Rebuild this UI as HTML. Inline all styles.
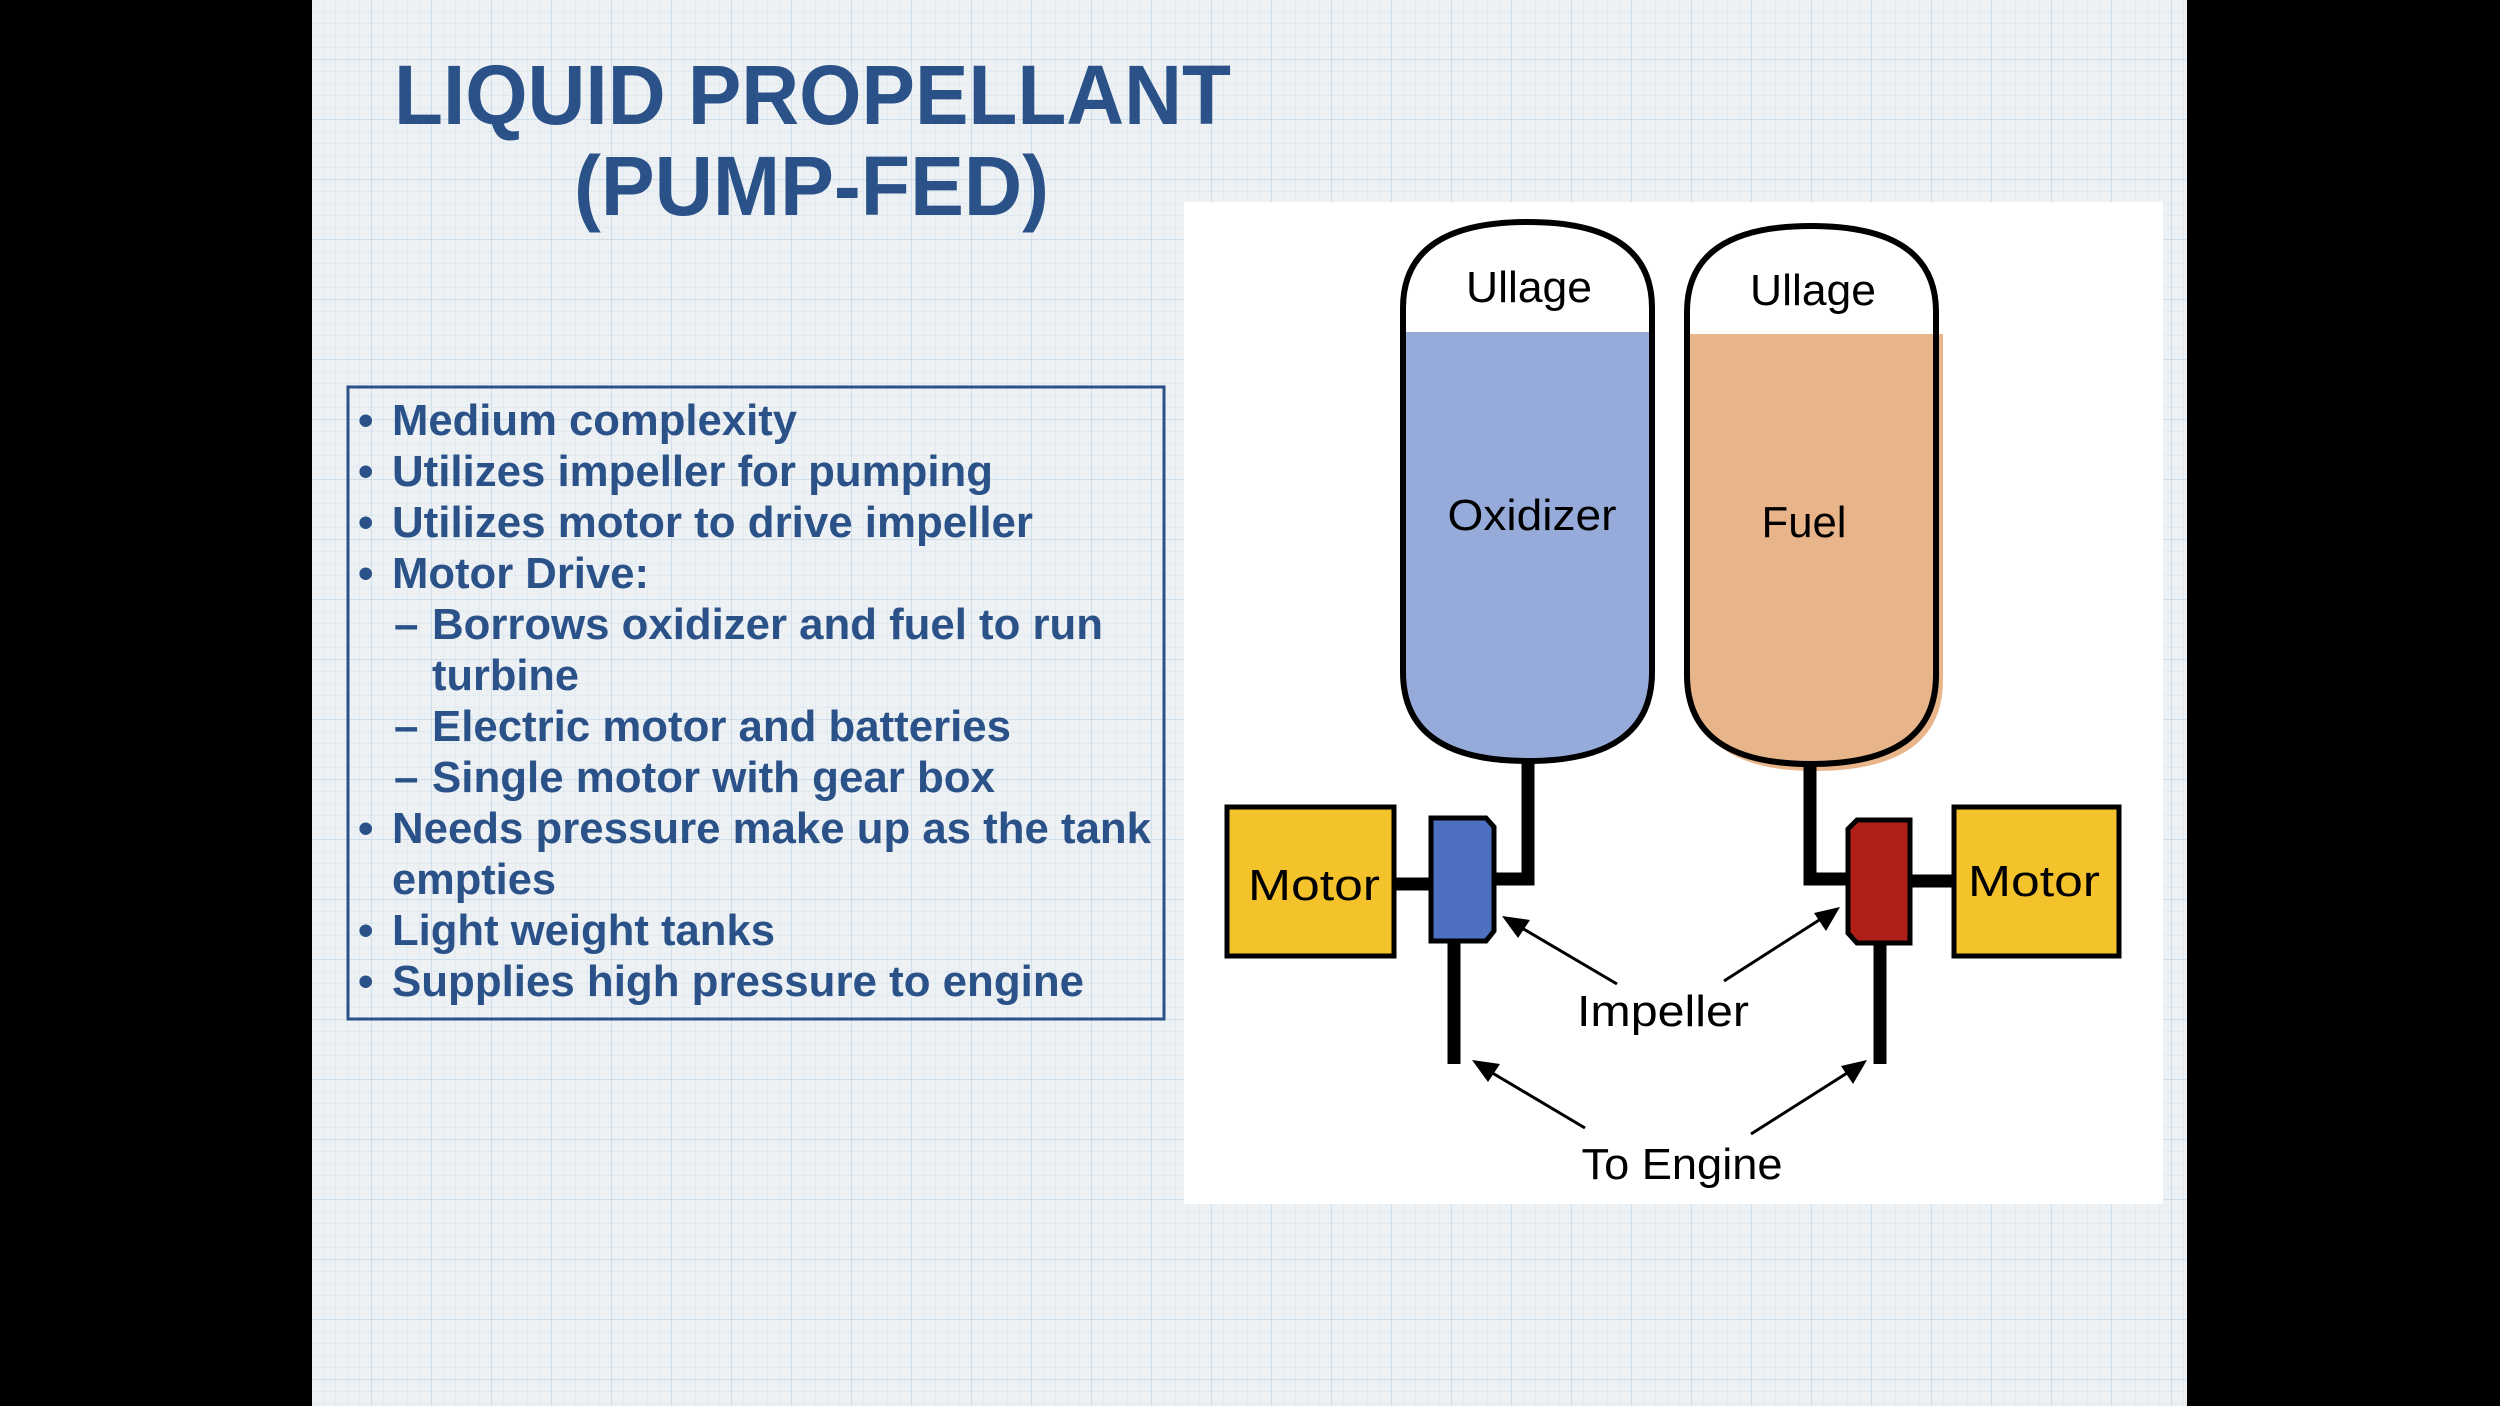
<!DOCTYPE html>
<html><head><meta charset="utf-8"><style>
html,body{margin:0;padding:0;background:#000;}
svg{display:block;}
</style></head><body>
<svg width="2500" height="1406" viewBox="0 0 2500 1406" xmlns="http://www.w3.org/2000/svg">
<defs>
<pattern id="minor" width="12" height="12" patternUnits="userSpaceOnUse" x="312" y="0">
<path d="M12 0V12M0 12H12" stroke="#d6e3ee" stroke-width="1" fill="none"/>
</pattern>
<pattern id="major" width="60" height="60" patternUnits="userSpaceOnUse" x="312" y="0">
<path d="M60 0V60M0 60H60" stroke="#c3d7e8" stroke-width="1.5" fill="none"/>
</pattern>
</defs>
<rect x="0" y="0" width="2500" height="1406" fill="#000"/>
<rect x="312" y="0" width="1875" height="1406" fill="#eef1f4"/>
<rect x="312" y="0" width="1875" height="1406" fill="url(#minor)"/>
<rect x="312" y="0" width="1875" height="1406" fill="url(#major)"/>

<g font-family="'Liberation Sans Narrow','Liberation Sans',sans-serif" font-weight="bold" fill="#2a5288">
<text x="394" y="124" font-size="84" textLength="837" lengthAdjust="spacingAndGlyphs">LIQUID PROPELLANT</text>
<text x="574" y="215" font-size="84" textLength="475" lengthAdjust="spacingAndGlyphs">(PUMP-FED)</text>
</g>

<rect x="348" y="387" width="816" height="632" fill="none" stroke="#2a5288" stroke-width="3"/>
<g font-family="'Liberation Sans Narrow','Liberation Sans',sans-serif" font-weight="bold" fill="#2a5288" font-size="44">
<text x="358" y="435">•</text><text x="392" y="435" textLength="405" lengthAdjust="spacingAndGlyphs">Medium complexity</text>
<text x="358" y="486">•</text><text x="392" y="486" textLength="601" lengthAdjust="spacingAndGlyphs">Utilizes impeller for pumping</text>
<text x="358" y="537">•</text><text x="392" y="537" textLength="641" lengthAdjust="spacingAndGlyphs">Utilizes motor to drive impeller</text>
<text x="358" y="588">•</text><text x="392" y="588" textLength="257" lengthAdjust="spacingAndGlyphs">Motor Drive:</text>
<text x="394" y="639">–</text><text x="432" y="639" textLength="671" lengthAdjust="spacingAndGlyphs">Borrows oxidizer and fuel to run</text>
<text x="432" y="690" textLength="147" lengthAdjust="spacingAndGlyphs">turbine</text>
<text x="394" y="741">–</text><text x="432" y="741" textLength="579" lengthAdjust="spacingAndGlyphs">Electric motor and batteries</text>
<text x="394" y="792">–</text><text x="432" y="792" textLength="563" lengthAdjust="spacingAndGlyphs">Single motor with gear box</text>
<text x="358" y="843">•</text><text x="392" y="843" textLength="759" lengthAdjust="spacingAndGlyphs">Needs pressure make up as the tank</text>
<text x="392" y="894" textLength="164" lengthAdjust="spacingAndGlyphs">empties</text>
<text x="358" y="945">•</text><text x="392" y="945" textLength="383" lengthAdjust="spacingAndGlyphs">Light weight tanks</text>
<text x="358" y="996">•</text><text x="392" y="996" textLength="692" lengthAdjust="spacingAndGlyphs">Supplies high pressure to engine</text>
</g>

<!-- diagram panel -->
<rect x="1184" y="202" width="979" height="1002" fill="#fff"/>

<!-- oxidizer tank -->
<path d="M1403 332 H1655 V672 Q1655 761 1528 761 Q1403 761 1403 672 Z" fill="#97abdb"/>
<path d="M1403 308 Q1403 222 1528 222 Q1652 222 1652 308 V672 Q1652 761 1528 761 Q1403 761 1403 672 Z" fill="none" stroke="#000" stroke-width="6"/>
<!-- fuel tank -->
<path d="M1690 334 H1943 V680 Q1943 771 1814 771 Q1700 771 1690 690 Z" fill="#e8b48a"/>
<path d="M1687 312 Q1687 226 1811 226 Q1936 226 1936 312 V675 Q1936 764 1811 764 Q1687 764 1687 675 Z" fill="none" stroke="#000" stroke-width="6"/>

<g font-family="'Liberation Sans',sans-serif" font-size="44" fill="#000" text-anchor="middle">
<text x="1529" y="302" textLength="126" lengthAdjust="spacingAndGlyphs">Ullage</text>
<text x="1813" y="305" textLength="126" lengthAdjust="spacingAndGlyphs">Ullage</text>
<text x="1532" y="530" textLength="169" lengthAdjust="spacingAndGlyphs">Oxidizer</text>
<text x="1804" y="537" textLength="85" lengthAdjust="spacingAndGlyphs">Fuel</text>
</g>

<!-- pipes -->
<g stroke="#000" stroke-width="13" fill="none">
<path d="M1528 761 V879 H1496"/>
<path d="M1810 764 V879 H1846"/>
<path d="M1454 943 V1064"/>
<path d="M1880 945 V1064"/>
<path d="M1394 884 H1429"/>
<path d="M1912 881 H1952"/>
</g>

<!-- motors -->
<rect x="1227" y="807" width="167" height="149" fill="#f4c22b" stroke="#000" stroke-width="5"/>
<rect x="1954" y="807" width="165" height="149" fill="#f4c22b" stroke="#000" stroke-width="5"/>
<g font-family="'Liberation Sans',sans-serif" font-size="44" fill="#000" text-anchor="middle">
<text x="1314" y="900" textLength="132" lengthAdjust="spacingAndGlyphs">Motor</text>
<text x="2034" y="896" textLength="132" lengthAdjust="spacingAndGlyphs">Motor</text>
</g>

<!-- pumps -->
<path d="M1431 818 H1486 L1494 827 V931 L1486 941 H1431 Z" fill="#4d70c0" stroke="#000" stroke-width="5"/>
<path d="M1910 820 H1857 L1848 829 V933 L1857 943 H1910 Z" fill="#b02018" stroke="#000" stroke-width="5"/>

<!-- arrows -->
<g stroke="#000" stroke-width="3">
<line x1="1617" y1="984" x2="1515" y2="924"/>
<line x1="1724" y1="981" x2="1827" y2="915"/>
<line x1="1585" y1="1128" x2="1484" y2="1068"/>
<line x1="1751" y1="1134" x2="1855" y2="1068"/>
</g>
<g fill="#000">
<polygon points="1502,916 1530,920 1518,938"/>
<polygon points="1840,907 1826,931 1814,913"/>
<polygon points="1472,1060 1500,1064 1488,1082"/>
<polygon points="1867,1060 1853,1084 1841,1066"/>
</g>
<g font-family="'Liberation Sans',sans-serif" font-size="44" fill="#000" text-anchor="middle">
<text x="1663" y="1026" textLength="172" lengthAdjust="spacingAndGlyphs">Impeller</text>
<text x="1682" y="1179" textLength="201" lengthAdjust="spacingAndGlyphs">To Engine</text>
</g>
</svg>
</body></html>
